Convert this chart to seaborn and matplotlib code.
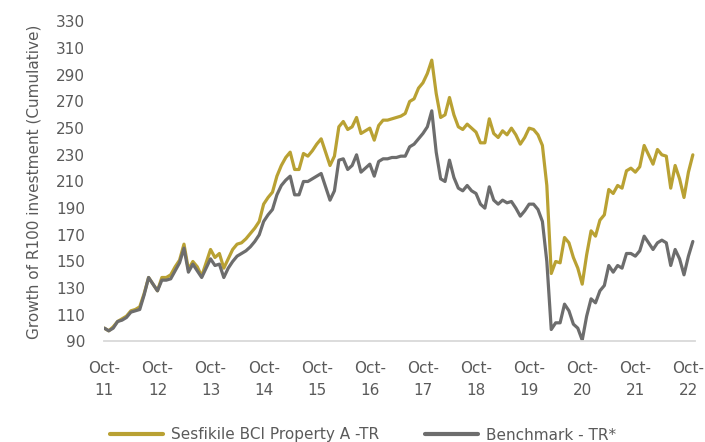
import matplotlib
matplotlib.use("Agg")
import matplotlib.pyplot as plt
import pandas as pd
import seaborn as sns

# monthly values, Oct-11 onwards
fund = [100, 98, 101, 105, 107, 109, 113, 114, 116, 126,
        138, 133, 128, 138, 138, 140, 146, 151, 163, 144,
        150, 146, 139, 149, 159, 153, 156, 145, 152, 159,
        163, 164, 167, 171, 175, 180, 193, 198, 202, 214,
        222, 228, 232, 219, 219, 231, 229, 233, 238, 242,
        232, 222, 229, 251, 255, 249, 251, 258, 246, 248,
        250, 241, 252, 256, 256, 257, 258, 259, 261, 270,
        272, 280, 284, 291, 301, 276, 258, 260, 273, 260,
        251, 249, 253, 250, 247, 239, 239, 257, 246, 243,
        248, 245, 250, 245, 238, 243, 250, 249, 245, 237,
        207, 141, 150, 149, 168, 164, 153, 145, 133, 155,
        173, 169, 181, 185, 204, 201, 207, 205, 218, 220,
        217, 221, 237, 230, 223, 234, 230, 229, 205, 222,
        212, 198, 217, 230]

bench = [100, 98, 100, 105, 106, 108, 112, 113, 114, 125,
         138, 133, 128, 136, 136, 137, 143, 149, 160, 142,
         148, 143, 138, 145, 152, 147, 148, 138, 145, 150,
         154, 156, 158, 161, 165, 170, 180, 185, 189, 200,
         207, 211, 214, 200, 200, 210, 210, 212, 214, 216,
         206, 196, 203, 226, 227, 219, 222, 230, 217, 220,
         223, 214, 225, 227, 227, 228, 228, 229, 229, 236,
         238, 242, 246, 251, 263, 232, 212, 210, 226, 213,
         205, 203, 207, 203, 201, 193, 190, 206, 196, 193,
         196, 194, 195, 190, 184, 188, 193, 193, 189, 180,
         150, 99, 104, 104, 118, 113, 103, 100, 91, 109,
         122, 119, 128, 132, 147, 142, 147, 145, 156, 156,
         154, 158, 169, 164, 159, 164, 166, 164, 147, 159,
         152, 140, 154, 165]

series_names = ["Sesfikile BCI Property A -TR", "Benchmark - TR*"]
colors = ["#B9A133", "#6D6D6D"]
tick_labels = ["Oct-\n11", "Oct-\n12", "Oct-\n13", "Oct-\n14", "Oct-\n15", "Oct-\n16",
               "Oct-\n17", "Oct-\n18", "Oct-\n19", "Oct-\n20", "Oct-\n21", "Oct-\n22"]

n = len(fund)
df = pd.concat([
    pd.DataFrame({"month": range(n), "value": fund, "series": series_names[0]}),
    pd.DataFrame({"month": range(n), "value": bench, "series": series_names[1]}),
])

sns.set_style("white")
plt.rcParams["font.family"] = ["DejaVu Sans"]
txt = "#5A5A5A"

fig = plt.figure(figsize=(7.05, 4.42), dpi=100)
ax = fig.add_axes([0.148, 0.2274, 0.8379, 0.724])

sns.lineplot(data=df, x="month", y="value", hue="series", hue_order=series_names,
             palette=dict(zip(series_names, colors)), linewidth=2.3, legend=False, ax=ax)

ax.set_xlim(0, 133.5)
ax.set_ylim(90, 330)
ax.set_yticks(range(90, 331, 20))
ax.set_xticks(range(0, n, 12))
ax.set_xticklabels(tick_labels, linespacing=1.6)
ax.set_xlabel("")
ax.set_ylabel("Growth of R100 investment (Cumulative)", fontsize=11, color=txt, labelpad=10)

for s in ["top", "right", "left"]:
    ax.spines[s].set_visible(False)
ax.spines["bottom"].set_color("#D9D9D9")
ax.spines["bottom"].set_linewidth(1.3)
ax.tick_params(axis="x", direction="out", length=4, width=1.3, color="#D9D9D9",
               labelsize=11, labelcolor=txt, pad=10)
ax.tick_params(axis="y", length=0, labelsize=11, labelcolor=txt, pad=14)

handles = ax.get_lines()[:2]
fig.legend(handles, series_names, loc="center", bbox_to_anchor=(0.515, 1 - 435 / 442),
           ncol=2, frameon=False, fontsize=11, labelcolor=txt,
           handlelength=3.5, handletextpad=0.5, columnspacing=3.0)
for h in fig.legends[0].get_lines():
    h.set_linewidth(3)

fig.savefig("out.png", dpi=100)
